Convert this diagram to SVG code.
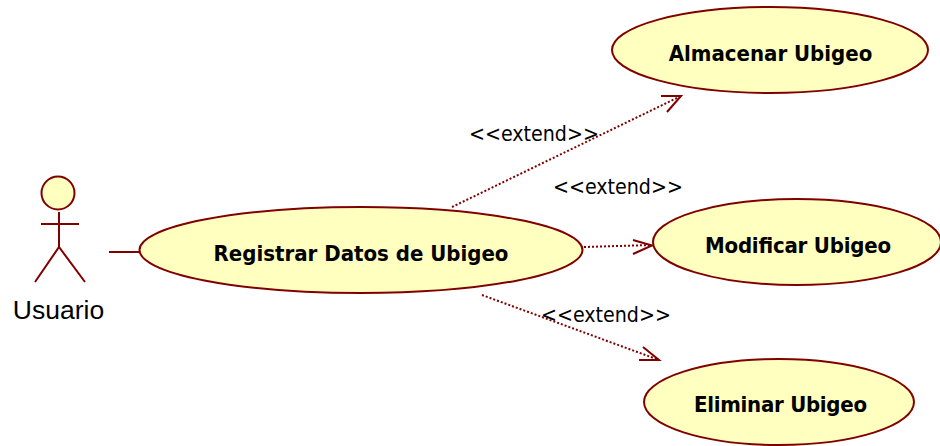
<svg xmlns="http://www.w3.org/2000/svg" width="940" height="446" viewBox="0 0 940 446">
<style>
.s{fill:none;stroke:#800000;stroke-width:2}
.u{fill:#ffffc0;stroke:#800000;stroke-width:2}
.t{font-family:"DejaVu Sans",sans-serif;font-stretch:condensed;font-weight:bold;font-size:22px;fill:#000;text-anchor:middle}
.e{font-family:"DejaVu Sans",sans-serif;font-stretch:condensed;font-size:21.200px;fill:#000}
.d{fill:none;stroke:#800000;stroke-width:2;stroke-dasharray:2 2}
</style>
<rect width="940" height="446" fill="#fff"/>
<g id="connectors">
<line class="s" x1="109" y1="252" x2="140" y2="252"/>
<line class="d" x1="452" y1="207" x2="681" y2="96"/>
<path class="s" d="M661 96L681 96L667 112"/>
<line class="d" x1="584" y1="247" x2="652" y2="245"/>
<path class="s" d="M633 240L652 245.500L633 254"/>
<line class="d" x1="482" y1="295" x2="659" y2="360"/>
<path class="s" d="M643 347L659 360L639 360"/>
</g>
<g id="actor-usuario">
<circle class="u" cx="58" cy="193" r="16.500"/>
<path class="s" d="M59 212V247M41 224H79M35 282L59 247L85 282"/>
<text x="58.500" y="319" style="font-family:'Liberation Sans',sans-serif;font-size:26.500px;fill:#000;text-anchor:middle">Usuario</text>
</g>
<g id="uc-registrar">
<ellipse class="u" cx="361" cy="250" rx="221.500" ry="43"/>
<text class="t" x="361" y="261">Registrar Datos de Ubigeo</text>
</g>
<g id="uc-almacenar">
<ellipse class="u" cx="770" cy="50" rx="158" ry="43"/>
<text class="t" x="770.500" y="61">Almacenar Ubigeo</text>
</g>
<g id="uc-modificar">
<ellipse class="u" cx="797" cy="242" rx="144" ry="43"/>
<text class="t" x="798" y="253" textLength="186">Modificar Ubigeo</text>
</g>
<g id="uc-eliminar">
<ellipse class="u" cx="779" cy="402" rx="135" ry="43"/>
<text class="t" x="780.500" y="412" textLength="173">Eliminar Ubigeo</text>
</g>
<g id="labels">
<text class="e" x="469" y="141">&lt;&lt;extend&gt;&gt;</text>
<text class="e" x="553" y="194">&lt;&lt;extend&gt;&gt;</text>
<text class="e" x="541" y="322">&lt;&lt;extend&gt;&gt;</text>
</g>
</svg>
